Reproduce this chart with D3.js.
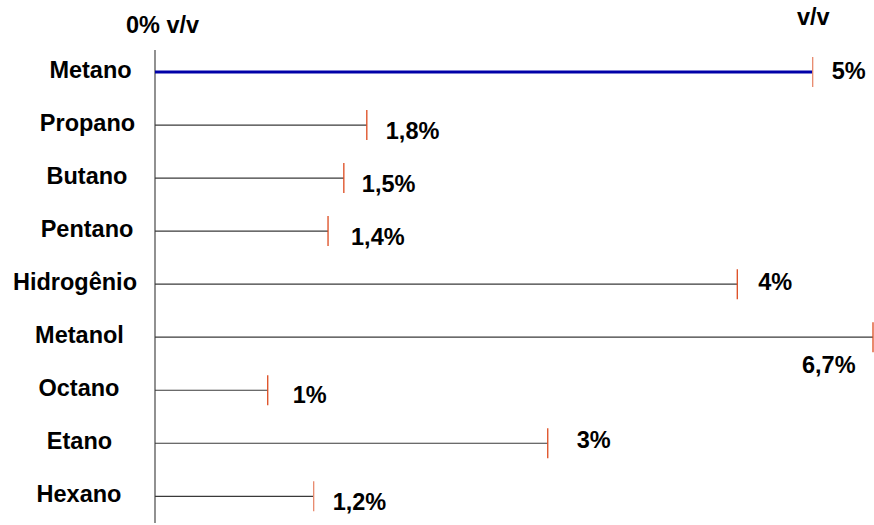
<!DOCTYPE html>
<html>
<head>
<meta charset="utf-8">
<script src="https://cdn.jsdelivr.net/npm/d3@7"></script>
<style>
  body { margin: 0; background: #fff; }
  text { font-family: "Liberation Sans", Arial, sans-serif; font-weight: bold; font-size: 23.5px; fill: #000; }
</style>
</head>
<body>
<svg class="chart"></svg>
<script>
// Data
var categories = ['Metano', 'Propano', 'Butano', 'Pentano', 'Hidrogênio', 'Metanol', 'Octano', 'Etano', 'Hexano'];
var valueLabels = ['5%', '1,8%', '1,5%', '1,4%', '4%', '6,7%', '1%', '3%', '1,2%'];
// drawn length of each line, as % of the axis width (the drawing is not to scale)
var lineLength = [91.6, 29.5, 26.3, 24.1, 81.1, 100, 15.7, 54.7, 22.1];
var headerLeft = '0% v/v';
var headerRight = 'v/v';

// Layout
var width = 874;
var height = 525;
var x0 = 155;
var x1 = 873;

// label nudges (the original labels are not aligned)
var labelCenter = [90.5, 87.5, 87, 87, 75, 79.5, 79, 79.5, 79];
var valueDx = [19, 19, 18, 23, 21, -71, 25, 29, 19];
var valueDy = [7, 14, 14, 14, 6, 36, 13, 5, 14];

var x = d3.scaleLinear().domain([0, 100]).range([x0, x1]);
var y = d3.scalePoint().domain(categories).range([72, 496.3]);

var svg = d3.select('.chart')
  .attr('width', width)
  .attr('height', height);

// vertical axis
svg.append('line')
  .attr('x1', x0).attr('x2', x0)
  .attr('y1', 50).attr('y2', 523)
  .attr('stroke', '#555')
  .attr('stroke-width', 1.3);

svg.append('text')
  .attr('x', 126).attr('y', 33)
  .text(headerLeft);

svg.append('text')
  .attr('x', 797).attr('y', 25)
  .text(headerRight);

var rows = svg.selectAll('.row')
  .data(categories)
  .enter()
  .append('g')
  .attr('class', 'row');

rows.append('line')
  .attr('x1', x(0))
  .attr('x2', function (d, i) { return x(lineLength[i]); })
  .attr('y1', function (d) { return y(d); })
  .attr('y2', function (d) { return y(d); })
  .attr('stroke', function (d, i) { return i === 0 ? '#0000a8' : '#3a3a3a'; })
  .attr('stroke-width', function (d, i) { return i === 0 ? 3 : 1.2; });

// end ticks
rows.append('line')
  .attr('x1', function (d, i) { return x(lineLength[i]); })
  .attr('x2', function (d, i) { return x(lineLength[i]); })
  .attr('y1', function (d) { return y(d) - 15; })
  .attr('y2', function (d) { return y(d) + 15; })
  .attr('stroke', function (d, i) { return (i === 0 || i === 8) ? '#e8896c' : '#dd4a1e'; })
  .attr('stroke-width', 1.3);

rows.append('text')
  .attr('x', function (d, i) { return labelCenter[i]; })
  .attr('y', function (d) { return y(d) + 6; })
  .attr('text-anchor', 'middle')
  .text(function (d) { return d; });

rows.append('text')
  .attr('x', function (d, i) { return x(lineLength[i]) + valueDx[i]; })
  .attr('y', function (d, i) { return y(d) + valueDy[i]; })
  .text(function (d, i) { return valueLabels[i]; });
</script>
</body>
</html>
